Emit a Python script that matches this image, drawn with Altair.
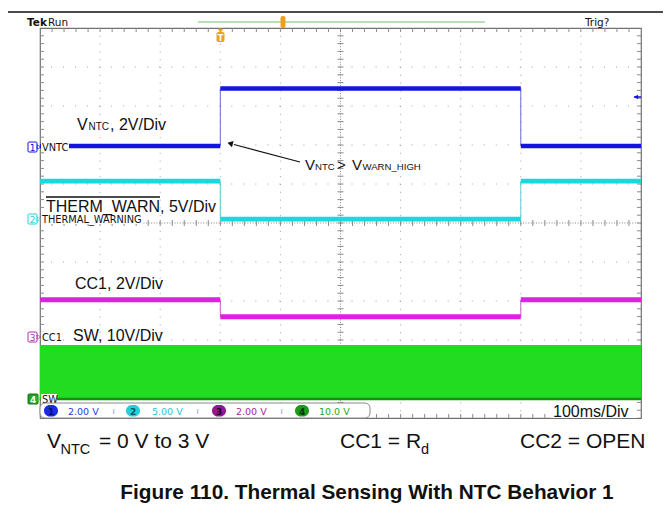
import altair as alt
import pandas as pd

# ---------------- data read from the scope capture ----------------
time_edges_ms = [0, 300, 800, 1000]          # 100 ms/div, 10 divisions
channel_names = ["VNTC", "THERMAL_WARNING", "CC1", "SW"]
volts_per_div = [2.0, 5.0, 2.0, 10.0]
ground_div = [1.95, 0.10, -2.92, -4.51]      # channel ground markers (divisions from centre)
vntc_levels_v = [0.05, 3.0, 0.05]
therm_levels_v = [4.87, 0.0, 4.87]
cc1_levels_v = [1.90, 1.03, 1.90]
sw_band_v = [0.0, 13.8]
trace_colors = ["#1414e0", "#1ed6e0", "#e020e0", "#22dc22"]
scale_labels = ["2.00 V", "5.00 V", "2.00 V", "10.0 V"]

# ---------------- geometry ----------------
W, H = 601, 390
X0, Y0 = 40, 28          # page position of the scope graticule


def px(x):
    return x - X0


def py(y):
    return y - Y0


xs = alt.Scale(domain=[0, 1000], range=[0, W], nice=False, zero=False)
ys = alt.Scale(domain=[-5, 5], range=[H, 0], nice=False, zero=False)
one = pd.DataFrame({"k": [0]})
FONT = "Liberation Sans"
SCOPE_FONT = "DejaVu Sans"


def X(f):
    return alt.X(f, type="quantitative", scale=xs, axis=None)


def Y(f):
    return alt.Y(f, type="quantitative", scale=ys, axis=None)


def txt(s, x, y, size=16, color="#111", weight="normal", font=FONT, align="left", baseline="alphabetic"):
    return alt.Chart(one).mark_text(text=s, fontSize=size, color=color, fontWeight=weight, font=font,
                                    align=align, baseline=baseline).encode(
        x=alt.value(px(x)), y=alt.value(py(y)))


def box(x1, x2, y1, y2, fill="white", stroke=None, sw=1, r=0):
    kw = dict(fill=fill, cornerRadius=r)
    if stroke:
        kw.update(stroke=stroke, strokeWidth=sw)
    else:
        kw.update(strokeWidth=0)
    return alt.Chart(one).mark_rect(**kw).encode(
        x=alt.value(px(x1)), x2=alt.value(px(x2)), y=alt.value(py(y1)), y2=alt.value(py(y2)))


def seg(x1, y1, x2, y2, color="#111", sw=1, dash=None):
    kw = dict(color=color, strokeWidth=sw)
    if dash:
        kw["strokeDash"] = dash
    return alt.Chart(one).mark_rule(**kw).encode(
        x=alt.value(px(x1)), y=alt.value(py(y1)), x2=alt.value(px(x2)), y2=alt.value(py(y2)))


# ---------------- graticule ----------------
vgrid = pd.DataFrame({"t": [t for t in range(100, 1000, 100) if t != 500]})
hgrid = pd.DataFrame({"d": [d for d in range(-4, 5) if d != 0]})
minor_t = pd.DataFrame({"t": [i * 20 for i in range(1, 50)]})
minor_d = pd.DataFrame({"d": [-5 + i * 0.2 for i in range(1, 50)]})

layers = []
layers.append(alt.Chart(vgrid).mark_rule(color="#a0a0a0", strokeWidth=1, strokeDash=[1, 6.8]).encode(x=X("t")))
layers.append(alt.Chart(hgrid).mark_rule(color="#a0a0a0", strokeWidth=1, strokeDash=[1, 11.02]).encode(y=Y("d")))
layers.append(alt.Chart(one).mark_rule(color="#8a8a8a", strokeWidth=1, strokeDash=[1, 1.6]).encode(x=alt.value(W / 2)))
layers.append(alt.Chart(one).mark_rule(color="#8a8a8a", strokeWidth=1, strokeDash=[1, 1.6]).encode(y=alt.value(H / 2)))
# minor ticks on centre lines and frame
layers.append(alt.Chart(minor_d).mark_rule(color="#8a8a8a", strokeWidth=1).encode(
    y=Y("d"), x=alt.value(W / 2 - 3), x2=alt.value(W / 2 + 3)))
layers.append(alt.Chart(minor_t).mark_rule(color="#8a8a8a", strokeWidth=1).encode(
    x=X("t"), y=alt.value(H / 2 - 3), y2=alt.value(H / 2 + 3)))
layers.append(alt.Chart(minor_t).mark_rule(color="#8a8a8a", strokeWidth=1).encode(
    x=X("t"), y=alt.value(0), y2=alt.value(4)))
layers.append(alt.Chart(minor_t).mark_rule(color="#8a8a8a", strokeWidth=1).encode(
    x=X("t"), y=alt.value(H - 4), y2=alt.value(H)))
layers.append(alt.Chart(minor_d).mark_rule(color="#8a8a8a", strokeWidth=1).encode(
    y=Y("d"), x=alt.value(0), x2=alt.value(4)))
layers.append(alt.Chart(minor_d).mark_rule(color="#8a8a8a", strokeWidth=1).encode(
    y=Y("d"), x=alt.value(W - 4), x2=alt.value(W)))

# ---------------- traces ----------------
# SW switching band
band = pd.DataFrame({"t0": [time_edges_ms[0]], "t1": [time_edges_ms[-1]],
                     "y0": [ground_div[3] + sw_band_v[0] / volts_per_div[3]],
                     "y1": [ground_div[3] + sw_band_v[1] / volts_per_div[3]]})
layers.append(alt.Chart(band).mark_rect(color=trace_colors[3]).encode(
    x=X("t0"), x2=alt.X2("t1"), y=Y("y0"), y2=alt.Y2("y1")))
layers.append(alt.Chart(band).mark_rule(color="#178f17", strokeWidth=2.5).encode(
    x=X("t0"), x2=alt.X2("t1"), y=Y("y0")))

levels = [vntc_levels_v, therm_levels_v, cc1_levels_v]
hseg, vseg = [], []
for c, lv in enumerate(levels):
    for k in range(3):
        hseg.append({"ch": channel_names[c], "t0": time_edges_ms[k], "t1": time_edges_ms[k + 1],
                     "y": ground_div[c] + lv[k] / volts_per_div[c]})
    for k in (1, 2):
        vseg.append({"ch": channel_names[c], "t": time_edges_ms[k],
                     "ya": ground_div[c] + lv[k - 1] / volts_per_div[c],
                     "yb": ground_div[c] + lv[k] / volts_per_div[c]})
hseg = pd.DataFrame(hseg)
vseg = pd.DataFrame(vseg)
cscale = alt.Scale(domain=channel_names, range=trace_colors)
edge_scale = alt.Scale(domain=channel_names[:3], range=["#6a6ad0", "#5fc8cc", "#c060c0"])
width_scale = alt.Scale(domain=channel_names[:3], range=[4.5, 5, 4])

layers.append(alt.Chart(vseg).mark_rule(strokeWidth=1).encode(
    x=X("t"), y=Y("ya"), y2=alt.Y2("yb"), color=alt.Color("ch:N", scale=edge_scale, legend=None)))
layers.append(alt.Chart(hseg).mark_rule().encode(
    x=X("t0"), x2=alt.X2("t1"), y=Y("y"),
    color=alt.Color("ch:N", scale=cscale, legend=None),
    strokeWidth=alt.StrokeWidth("ch:N", scale=width_scale, legend=None)))

# ---------------- channel markers ----------------
marker_y = [147, 219, 337, 399]
label_w = [28, 102, 21, 16]
for c in range(4):
    yy = marker_y[c]
    col = trace_colors[c] if c != 2 else "#b030b0"
    if c == 3:
        layers.append(box(28, 38, yy - 5, yy + 5, fill="#22a022", stroke="#117711", r=1))
        layers.append(txt("4", 33, yy + 3.5, size=9, color="white", weight="bold", font=SCOPE_FONT, align="center"))
    else:
        layers.append(box(28, 37, yy - 5, yy + 5, fill="white", stroke=col, r=1))
        layers.append(txt(str(c + 1), 32.5, yy + 3.5, size=9, color=col, font=SCOPE_FONT, align="center"))
    layers.append(alt.Chart(one).mark_point(shape="triangle-right", filled=False, size=18, strokeWidth=1,
                                            color=col).encode(x=alt.value(px(39)), y=alt.value(py(yy))))
    layers.append(box(41, 41 + label_w[c], yy - 5, yy + 5, fill="white"))
    layers.append(txt(channel_names[c], 42, yy + 3.5, size=9.8, color="#111", font=SCOPE_FONT))

# ---------------- annotations ----------------
layers.append(txt("V", 77, 130, size=16))
layers.append(txt("NTC", 88.5, 130, size=10))
layers.append(txt(", 2V/Div", 110, 130, size=16))

layers.append(txt("THERM_WARN, 5V/Div", 46, 212, size=16))
layers.append(seg(46, 197, 160, 197, sw=1.3))
layers.append(txt("CC1, 2V/Div", 75, 289, size=16))
layers.append(txt("SW, 10V/Div", 73, 341, size=16))

layers.append(txt("V", 305, 170, size=15))
layers.append(txt("NTC", 315, 170, size=9.6))
layers.append(txt(">", 337, 170, size=15))
layers.append(txt("V", 352, 170, size=15))
layers.append(txt("WARN_HIGH", 362.5, 170, size=9.6))
layers.append(seg(300, 162, 234, 144.5, sw=1.2))
layers.append(alt.Chart(one).mark_point(shape="triangle", filled=True, size=40, angle=285, color="#111",
                                        opacity=1).encode(x=alt.value(px(231)), y=alt.value(py(143.7))))

# ---------------- scope header ----------------
layers.append(seg(-10, 12, 680, 12, color="#111", sw=1.3))
layers.append(txt("Tek", 27, 26, size=10.5, weight="bold", font=SCOPE_FONT))
layers.append(txt("Run", 48, 26, size=10.5, font=SCOPE_FONT))
layers.append(txt("Trig?", 585, 26, size=10.5, font=SCOPE_FONT))
layers.append(seg(198, 22, 485, 22, color="#6cc36c", sw=1.2))
layers.append(box(280.5, 285.5, 16, 28, fill="#f0a020", r=2))
layers.append(alt.Chart(one).mark_point(shape="triangle-down", filled=True, size=30, color="#f0a020", opacity=1).encode(
    x=alt.value(px(220.5)), y=alt.value(py(31))))
layers.append(box(216.5, 224.5, 32, 42, fill="#f0a020", r=2))
layers.append(txt("T", 220.5, 40.5, size=8, color="white", weight="bold", font=SCOPE_FONT, align="center"))
layers.append(alt.Chart(one).mark_point(shape="triangle-left", filled=True, size=22, color="#1414e0", opacity=1).encode(
    x=alt.value(px(636)), y=alt.value(py(97))))
layers.append(seg(634, 97, 641, 97, color="#1414e0", sw=1.5))

# ---------------- status bar ----------------
layers.append(box(40, 370, 403, 418, fill="white", stroke="#8a8a8a", r=5))
chip_x = [44, 126, 212, 295]
text_x = [68, 152, 236, 319]
chip_fill = ["#1a2ae6", "#22d0dc", "#8e1a8e", "#1c9a1c"]
chip_text = ["#0b0b70", "#0b5560", "#2a0030", "#06300a"]
val_color = ["#2a3ae6", "#28c6d2", "#a22aa2", "#22a822"]
for c in range(4):
    layers.append(box(chip_x[c], chip_x[c] + 14, 405, 416.5, fill=chip_fill[c], r=6))
    layers.append(txt(str(c + 1), chip_x[c] + 7, 414.5, size=9, color=chip_text[c], weight="bold",
                      font=SCOPE_FONT, align="center"))
    layers.append(txt(scale_labels[c], text_x[c], 415, size=9.5, color=val_color[c], font=SCOPE_FONT))
    if c < 3:
        layers.append(txt("\u2240", text_x[c] + 44, 414, size=8, color="#7a8acc", font=SCOPE_FONT))
layers.append(box(551, 637, 403, 418, fill="white"))
layers.append(txt("100ms/Div", 553, 417, size=16))

# ---------------- captions ----------------
layers.append(txt("V", 47, 448, size=21))
layers.append(txt("NTC", 60.5, 454, size=14.5))
layers.append(txt("= 0 V to 3 V", 99, 448, size=21))
layers.append(txt("CC1 = R", 340, 448, size=21))
layers.append(txt("d", 421, 454, size=14.5))
layers.append(txt("CC2 = OPEN", 520, 448, size=21))
layers.append(txt("Figure 110. Thermal Sensing With NTC Behavior 1", 367, 499, size=20.8, weight="bold", align="center"))

chart = alt.layer(*layers).properties(
    width=W, height=H,
    padding={"left": 32, "top": 20, "right": 22, "bottom": 92},
    autosize=alt.AutoSizeParams(type="none"),
).configure_view(stroke="#707070", strokeWidth=1.2).resolve_scale(color="independent", strokeWidth="independent")

chart.save("out.html", embed_options={"renderer": "svg", "actions": False})
